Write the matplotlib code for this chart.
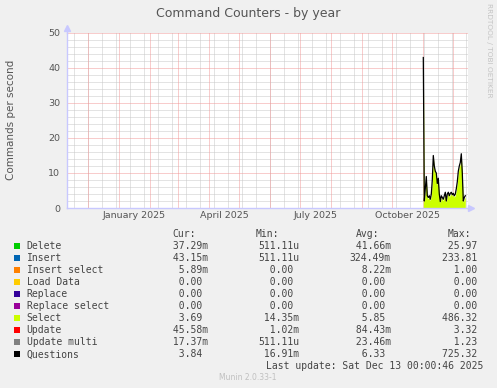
import matplotlib
matplotlib.use("Agg")
import matplotlib.pyplot as plt
import matplotlib.dates as mdates
from matplotlib.patches import Rectangle
import pandas as pd
from datetime import datetime

# data, one value per day from 2025-11-01
questions = [43.0, 2.0, 5.5, 9.0, 3.5, 3.0, 3.5, 2.5, 4.0, 8.0, 15.0, 12.0, 10.5, 10.0, 7.0,
             8.5, 4.0, 1.8, 3.5, 3.0, 2.5, 3.5, 4.5, 2.0, 4.0, 4.5, 3.5, 4.2, 4.5, 3.8,
             4.2, 3.5, 4.0, 5.5, 7.5, 10.5, 12.0, 13.0, 15.5, 10.0, 2.0, 3.0, 3.5]
select = [42.0, 1.6, 5.0, 8.6, 3.1, 2.6, 3.1, 2.1, 3.6, 7.6, 14.6, 11.6, 10.1, 9.6, 6.6,
          8.1, 3.6, 1.4, 3.1, 2.6, 2.1, 3.1, 4.1, 1.6, 3.6, 4.1, 3.1, 3.8, 4.1, 3.4,
          3.8, 3.1, 3.6, 5.1, 7.1, 10.1, 11.6, 12.6, 15.1, 9.6, 1.6, 2.6, 3.1]
start_day = "2025-11-01"

legend_names = ["Delete", "Insert", "Insert select", "Load Data", "Replace",
                "Replace select", "Select", "Update", "Update multi", "Questions"]
legend_colors = ["#00CC00", "#0066B3", "#FF8000", "#FFCC00", "#330099",
                 "#990099", "#CCFF00", "#FF0000", "#808080", "#000000"]
cur = ["37.29m", "43.15m", "5.89m", "0.00", "0.00", "0.00", "3.69", "45.58m", "17.37m", "3.84"]
mins = ["511.11u", "511.11u", "0.00", "0.00", "0.00", "0.00", "14.35m", "1.02m", "511.11u", "16.91m"]
avgs = ["41.66m", "324.49m", "8.22m", "0.00", "0.00", "0.00", "5.85", "84.43m", "23.46m", "6.33"]
maxs = ["25.97", "233.81", "1.00", "0.00", "0.00", "0.00", "486.32", "3.32", "1.23", "725.32"]

W, H = 497, 388
fig = plt.figure(figsize=(W / 100, H / 100), dpi=100, facecolor="#F0F0F0")
ax = fig.add_axes([67 / W, 1 - 208 / H, 401 / W, 175 / H])
ax.set_facecolor("white")

dates = pd.date_range(start_day, periods=len(questions), freq="D")
x = mdates.date2num(dates)
dec1 = mdates.date2num(datetime(2024, 12, 1))
ax.set_xlim(dec1 - 21.3, dec1 + 379.7)
ax.set_ylim(0, 50)

# grid, rrdtool style (1px on / 1px off)
dot = (0, (1, 1))
for d in range(-14, 380, 14):
    ax.axvline(dec1 + d, color="#C8C8C8", lw=0.72, ls=dot, zorder=0)
for y in range(2, 51, 2):
    if y % 10:
        ax.axhline(y, color="#C8C8C8", lw=0.72, ls=dot, zorder=0)
for m in range(13):
    yr = 2024 + (11 + m) // 12
    mo = (11 + m) % 12 + 1
    ax.axvline(mdates.date2num(datetime(yr, mo, 1)), color="#F29A9A", lw=0.72, ls=dot, zorder=0)
for y in range(10, 51, 10):
    ax.axhline(y, color="#F29A9A", lw=0.72, ls=dot, zorder=0)

ax.fill_between(x, 0, select, color="#CCFF00", lw=0, zorder=2)
ax.plot(x, questions, color="black", lw=0.9, zorder=3)

# axes
for s in ["top", "right"]:
    ax.spines[s].set_visible(False)
for s in ["left", "bottom"]:
    ax.spines[s].set_color("#C8C8FF")
    ax.spines[s].set_linewidth(1)
ax.plot([0, 0], [1, 1.03], transform=ax.transAxes, color="#C8C8FF", lw=1, clip_on=False)
ax.plot([0], [1.03], transform=ax.transAxes, marker="^", ms=4, color="#C8C8FF", clip_on=False)
ax.plot([1, 1.008], [0, 0], transform=ax.transAxes, color="#C8C8FF", lw=1, clip_on=False)
ax.plot([1.008], [0], transform=ax.transAxes, marker=">", ms=4, color="#C8C8FF", clip_on=False)

ax.set_yticks([0, 10, 20, 30, 40, 50])
ax.set_yticklabels(["0", "10", "20", "30", "40", "50"])
xt = [mdates.date2num(datetime(2025, m, 16)) for m in (1, 4, 7, 10)]
ax.set_xticks(xt)
ax.set_xticklabels(["January 2025", "April 2025", "July 2025", "October 2025"])
ax.tick_params(axis="both", length=0, labelsize=6.8, colors="#555555")
ax.tick_params(axis="y", pad=5)
ax.tick_params(axis="x", pad=2)

fig.text(248 / W, 1 - 13.5 / H, "Command Counters - by year", ha="center", va="center",
         fontsize=9, color="#555555")
fig.text(11 / W, 1 - 120 / H, "Commands per second", rotation=90, ha="center", va="center",
         fontsize=7.5, color="#555555")
fig.text(489 / W, 1 - 3 / H, "RRDTOOL / TOBI OETIKER", rotation=270, ha="center", va="top",
         fontsize=5.3, color="#C4C4C4")

# legend
mono = "DejaVu Sans Mono"
fs = 7.05
def ftext(px, py, s, **kw):
    fig.text(px / W, 1 - (py + 3.6) / H, s, family=mono, fontsize=fs, color="#444444",
             va="baseline", **kw)

def fmt(v):
    if v[-1] in "mu":
        return "%6s%s" % (v[:-1], v[-1])
    return "%6s " % v

col_x = [166.7, 258.5, 349.5, 441.6]
ftext(172.7, 233.7, "Cur:")
ftext(256.0, 233.7, "Min:")
ftext(355.7, 233.7, "Avg:")
ftext(447.7, 233.7, "Max:")
for k, name in enumerate(legend_names):
    yy = 245.7 + 12 * k
    fig.add_artist(Rectangle((14 / W, 1 - (yy + 3) / H), 6 / W, 6 / H,
                             transform=fig.transFigure, color=legend_colors[k], lw=0))
    ftext(26.7, yy, name)
    for cx, col in zip(col_x, [cur, mins, avgs, maxs]):
        ftext(cx, yy, fmt(col[k]))
ftext(483.3, 365.7, "Last update: Sat Dec 13 00:00:46 2025", ha="right")
fig.text(248 / W, 1 - 377.5 / H, "Munin 2.0.33-1", ha="center", va="center",
         fontsize=5.5, color="#C0C0C0")

fig.savefig("out.png", dpi=100, facecolor=fig.get_facecolor())
